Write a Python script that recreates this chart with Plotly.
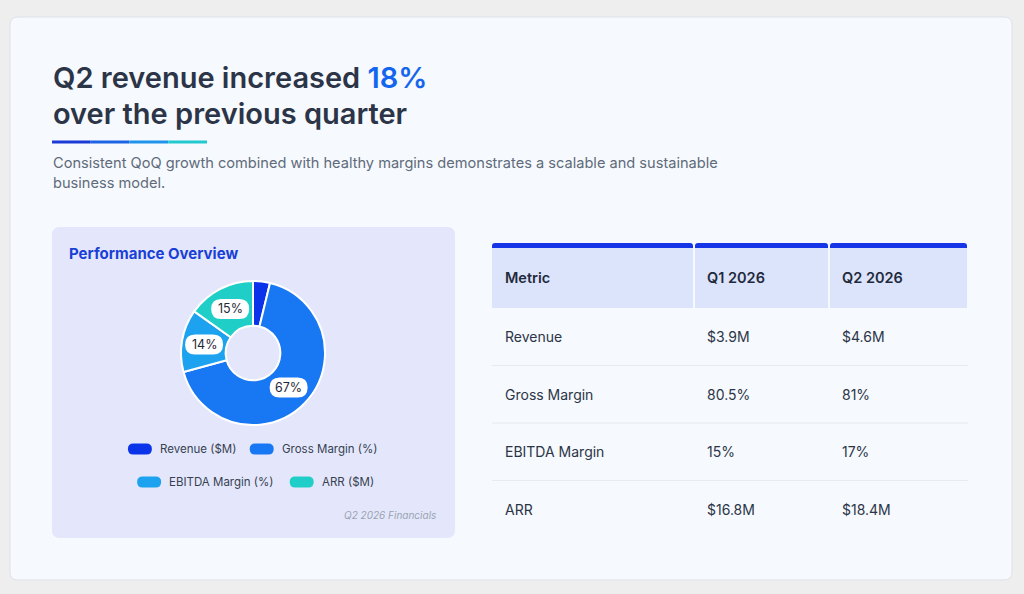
import math
import plotly.graph_objects as go

# data
metrics = ["Revenue", "Gross Margin", "EBITDA Margin", "ARR"]
q1_2026 = ["$3.9M", "80.5%", "15%", "$16.8M"]
q2_2026 = ["$4.6M", "81%", "17%", "$18.4M"]
table_header = ["Metric", "Q1 2026", "Q2 2026"]

pie_labels = ["Revenue ($M)", "Gross Margin (%)", "EBITDA Margin (%)", "ARR ($M)"]
pie_values = [4.6, 81, 17, 18.4]
pie_colors = ["#0b34ea", "#1877f2", "#1da2ef", "#1fcfc7"]

W, H = 1024, 594
FONT = "Inter"
DARK = "#2b3547"


def rrect(x0, y0, x1, y1, r, tl=True, tr=True, br=True, bl=True):
    # rounded rectangle path in pixel coords (y grows down)
    p = f"M {x0 + (r if tl else 0)},{y0} "
    p += f"L {x1 - (r if tr else 0)},{y0} "
    if tr:
        p += f"Q {x1},{y0} {x1},{y0 + r} "
    p += f"L {x1},{y1 - (r if br else 0)} "
    if br:
        p += f"Q {x1},{y1} {x1 - r},{y1} "
    p += f"L {x0 + (r if bl else 0)},{y1} "
    if bl:
        p += f"Q {x0},{y1} {x0},{y1 - r} "
    p += f"L {x0},{y0 + (r if tl else 0)} "
    if tl:
        p += f"Q {x0},{y0} {x0 + r},{y0} "
    return p + "Z"


shapes = []
annotations = []


def text(x, y, s, size=14, color=DARK, weight=400, xanchor="left", italic=False):
    annotations.append(dict(
        x=x, y=y, xref="x", yref="y", text=s, showarrow=False,
        xanchor=xanchor, yanchor="middle",
        font=dict(family=FONT, size=size, color=color, weight=weight,
                  style="italic" if italic else "normal")))


# main card
shapes.append(dict(type="path", path=rrect(10, 17, 1012, 580, 8), fillcolor="#f6f9fd",
                   line=dict(color="#dde1e6", width=1), layer="below"))

# title
text(51, 77, "Q2 revenue increased <span style='color:#1466ef'>18%</span>", size=29, weight=600)
text(51, 113, "over the previous quarter", size=29, weight=600)
grad = ["#1a3bd8", "#1d63e6", "#1f93ea", "#22c9cf"]
seg = (207 - 52) / len(grad)
for i, c in enumerate(grad):
    shapes.append(dict(type="line", x0=52 + i * seg, x1=52 + (i + 1) * seg, y0=142, y1=142,
                       line=dict(color=c, width=3)))
text(51, 163, "Consistent QoQ growth combined with healthy margins demonstrates a scalable and sustainable",
     size=14.6, color="#5f6b7b")
text(51, 183, "business model.", size=14.6, color="#5f6b7b")

# left panel
shapes.append(dict(type="path", path=rrect(52, 227, 455, 538, 8), fillcolor="#e4e7fb",
                   line=dict(width=0), layer="below"))
text(67, 253, "Performance Overview", size=15, color="#1a3fd6", weight=700)
text(438, 515, "Q2 2026 Financials", size=10, color="#9aa3b2", xanchor="right", italic=True)

# donut
cx, cy, R = 253, 353, 72
hole = 0.38
fig = go.Figure()
fig.add_trace(go.Pie(
    labels=pie_labels, values=pie_values, hole=hole, sort=False, direction="clockwise",
    rotation=0, marker=dict(colors=pie_colors, line=dict(color="white", width=2)),
    textinfo="none", showlegend=False, hoverinfo="label+percent",
    domain=dict(x=[(cx - R) / W, (cx + R) / W], y=[1 - (cy + R) / H, 1 - (cy - R) / H])))

# label pills at middle of each slice
total = sum(pie_values)
cum = 0
rmid = R * (1 + hole) / 2
for v in pie_values:
    frac = v / total
    ang = 2 * math.pi * (cum + frac / 2)
    cum += frac
    pct = round(frac * 100)
    if pct < 5:
        continue
    lx = cx + rmid * math.sin(ang)
    ly = cy - rmid * math.cos(ang)
    shapes.append(dict(type="path", path=rrect(lx - 19, ly - 10, lx + 19, ly + 10, 10),
                       fillcolor="white", line=dict(width=0), layer="above"))
    text(lx, ly, f"{pct}%", size=12.5, color="#1f2937", xanchor="center")

# legend (two rows, centered in the panel)
rows = [pie_labels[:2], pie_labels[2:]]
row_y = [449, 482]
for r, items in enumerate(rows):
    widths = [24 + 7 + len(s) * 6.15 for s in items]
    total_w = sum(widths) + 17 * (len(items) - 1)
    x = 253.5 - total_w / 2
    for s, w in zip(items, widths):
        c = pie_colors[pie_labels.index(s)]
        y = row_y[r]
        shapes.append(dict(type="path", path=rrect(x, y - 5.5, x + 24, y + 5.5, 5.5),
                           fillcolor=c, line=dict(width=0)))
        text(x + 30, y, s, size=11.5, color="#374151")
        x += w + 17

# table
col_x = [492, 694, 829, 968]
head_top, head_bot = 243, 308
row_h = 57.5
for i in range(3):
    x0 = col_x[i] + (1 if i else 0)
    x1 = col_x[i + 1] - 1
    shapes.append(dict(type="path", path=rrect(x0, head_top, x1, head_bot, 3, br=False, bl=False),
                       fillcolor="#dce4fb", line=dict(width=0)))
    shapes.append(dict(type="path", path=rrect(x0, head_top, x1, head_top + 5, 3, br=False, bl=False),
                       fillcolor="#1535e6", line=dict(width=0)))
    text(col_x[i] + 11, (head_top + head_bot) / 2 + 2, table_header[i], size=14.5,
         color="#1f2a3c", weight=600)

for j, cells in enumerate(zip(metrics, q1_2026, q2_2026)):
    yc = head_bot + row_h * (j + 0.5)
    for i, c in enumerate(cells):
        text(col_x[i] + 11, yc, c, size=14, color=DARK)
    if j < len(metrics) - 1:
        shapes.append(dict(type="line", x0=col_x[0], x1=col_x[-1], y0=head_bot + row_h * (j + 1),
                           y1=head_bot + row_h * (j + 1), line=dict(color="#e7eaef", width=1)))

fig.update_layout(
    width=W, height=H, margin=dict(l=0, r=0, t=0, b=0),
    paper_bgcolor="#eeeeee", plot_bgcolor="rgba(0,0,0,0)",
    xaxis=dict(range=[0, W], visible=False, fixedrange=True),
    yaxis=dict(range=[H, 0], visible=False, fixedrange=True),
    shapes=shapes, annotations=annotations, showlegend=False,
    font=dict(family=FONT),
)
fig.write_html("out.html", config=dict(displayModeBar=False),
               post_script="document.body.style.margin='0';")
